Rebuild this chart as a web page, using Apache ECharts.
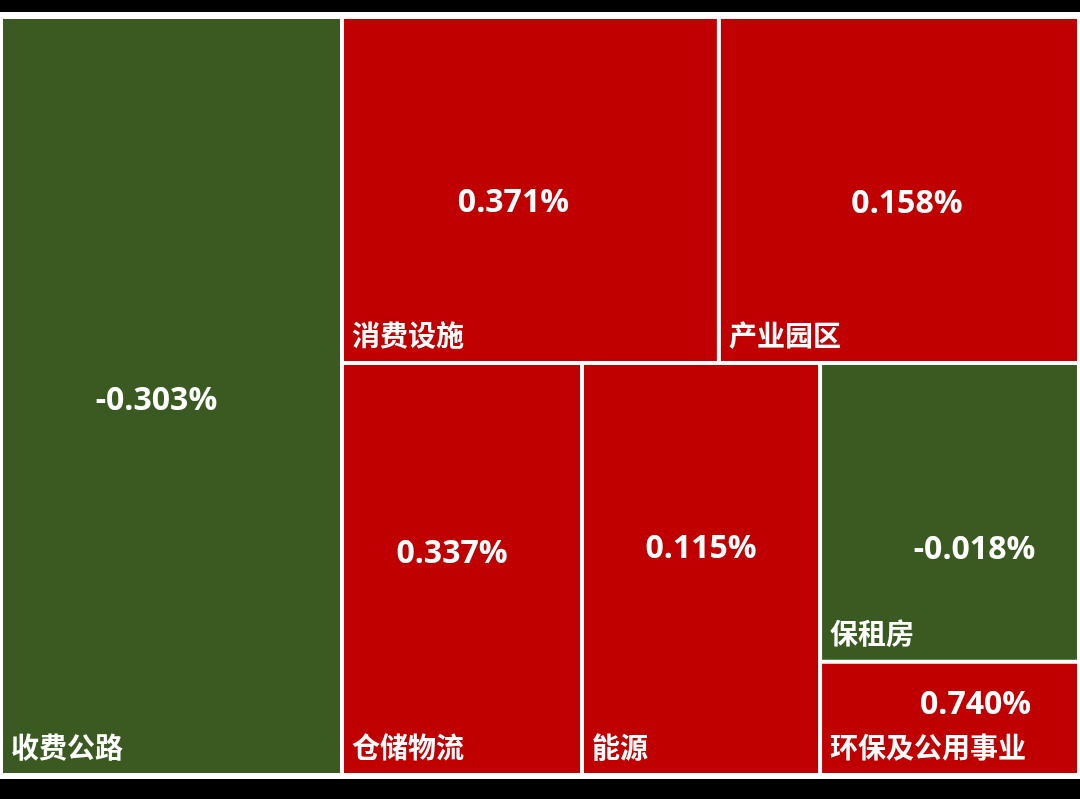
<!DOCTYPE html>
<html><head><meta charset="utf-8">
<script src="https://cdn.jsdelivr.net/npm/echarts@6/dist/echarts.min.js"></script>
<style>html,body{margin:0;padding:0;background:#fff}#c{width:1080px;height:799px}</style>
</head><body><div id="c"></div>
<script>
// ---- data ----
const sectors = ['收费公路', '消费设施', '产业园区', '仓储物流', '能源', '保租房', '环保及公用事业'];
const sizes   = [258.5, 130.4, 124.6, 98.9, 98.1, 77.4, 29.3];
const changes = [-0.303, 0.371, 0.158, 0.337, 0.115, -0.018, 0.740];

// ---- layout structure (index nesting, order kept) ----
const grouping = [0, [[1, 2], [3, 4, [5, 6]]]];
// value-label nudges (px) relative to the cell centre
const labelNudge = [[-15, 5], [-17, 13], [8, 14], [-10, -15], [0, -20], [25, 37], [26, -14]];
const UP = '#C00000', DOWN = '#3B5A21';

function build(node, mode) {
  if (Array.isArray(node)) {
    return {
      children: node.map(n => build(n, mode)),
      itemStyle: { borderWidth: 0, gapWidth: 0, borderColor: mode === 'value' ? '#fff' : 'transparent', color: 'transparent' }
    };
  }
  const i = node;
  const leaf = { name: sectors[i], value: sizes[i] };
  if (mode === 'value') {
    leaf.itemStyle = { color: changes[i] >= 0 ? UP : DOWN, borderColor: '#fff', borderWidth: 2 };
    leaf.label = { offset: labelNudge[i] };
  } else {
    leaf.itemStyle = { color: 'transparent', borderColor: 'transparent', borderWidth: 2 };
  }
  return leaf;
}

const base = {
  type: 'treemap', left: 1, top: 17, right: 1, bottom: 24,
  roam: false, nodeClick: false, breadcrumb: { show: false },
  sort: false, squareRatio: 1, animation: false, silent: true,
  emphasis: { disabled: true }
};

const chart = echarts.init(document.getElementById('c'), null, { renderer: 'canvas' });
chart.setOption({
  backgroundColor: '#fff',
  animation: false,
  series: [
    Object.assign({}, base, {
      itemStyle: { borderWidth: 0, gapWidth: 0, borderColor: '#fff' },
      label: {
        show: true, position: 'inside', color: '#fff',
        fontFamily: 'Open Sans', fontWeight: 'bold', fontSize: 32,
        formatter: p => {
          const i = sectors.indexOf(p.name);
          return changes[i].toFixed(3) + '%';
        }
      },
      data: grouping.map(n => build(n, 'value'))
    }),
    Object.assign({}, base, {
      itemStyle: { borderWidth: 0, gapWidth: 0, borderColor: 'transparent', color: 'transparent' },
      label: {
        show: true, position: 'insideBottomLeft', distance: 8, padding: [0, 0, 4, 0],
        color: '#fff', fontFamily: 'Noto Sans CJK SC', fontWeight: 'bold', fontSize: 28,
        formatter: '{b}'
      },
      data: grouping.map(n => build(n, 'name'))
    })
  ],
  graphic: [
    { type: 'rect', left: 0, top: 0, z: 100, shape: { width: 1080, height: 12 }, style: { fill: '#000' } },
    { type: 'rect', left: 0, top: 779, z: 100, shape: { width: 1080, height: 20 }, style: { fill: '#000' } }
  ]
});
</script>
</body></html>
